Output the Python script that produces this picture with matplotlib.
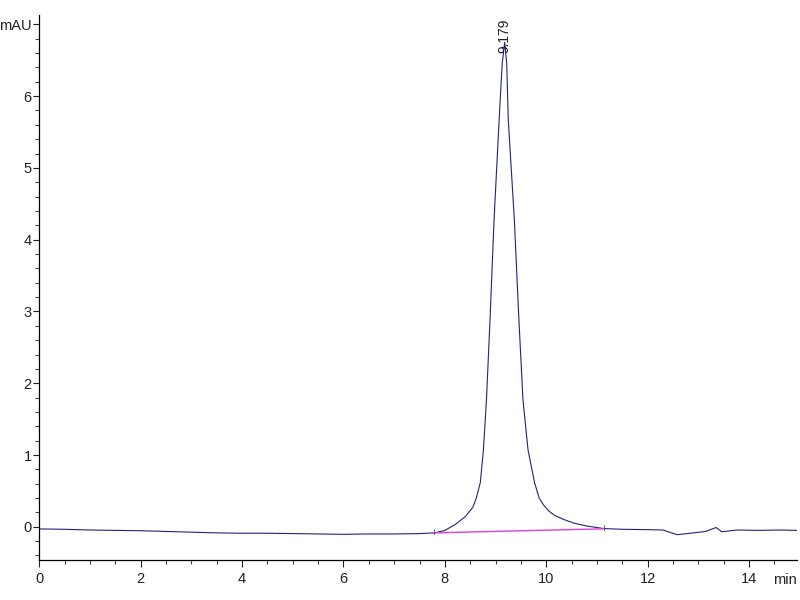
import matplotlib
matplotlib.use("Agg")
import matplotlib.pyplot as plt
from matplotlib.ticker import MultipleLocator, FixedLocator, FixedFormatter

plt.rcParams['font.family'] = ['Liberation Sans', 'DejaVu Sans']

# chromatogram (min, mAU)
time_min = [0.0, 0.5, 1.0, 1.5, 2.0, 2.5, 3.0, 3.5, 4.0, 4.5, 5.0, 5.5, 6.0, 6.5,
            7.0, 7.5, 7.8, 8.0, 8.2, 8.4, 8.55, 8.62, 8.70, 8.76, 8.82, 8.89,
            8.97, 9.07, 9.13, 9.18, 9.22, 9.25, 9.37, 9.46, 9.54, 9.64, 9.77,
            9.86, 9.95, 10.05, 10.16, 10.35, 10.55, 10.8, 11.14, 11.5, 12.0, 12.3,
            12.58, 12.84, 13.14, 13.35, 13.46, 13.76, 14.2, 14.6, 14.94]
signal_mau = [-0.03, -0.035, -0.045, -0.05, -0.055, -0.065, -0.075, -0.085, -0.09,
              -0.09, -0.095, -0.10, -0.105, -0.10, -0.10, -0.095, -0.085, -0.05,
              0.03, 0.14, 0.27, 0.40, 0.62, 1.07, 1.77, 2.88, 4.28, 5.67, 6.45,
              6.75, 6.45, 5.67, 4.28, 2.88, 1.77, 1.07, 0.61, 0.40, 0.30, 0.22,
              0.16, 0.10, 0.05, 0.01, -0.025, -0.035, -0.04, -0.045, -0.11, -0.09,
              -0.065, -0.01, -0.07, -0.045, -0.05, -0.045, -0.05]

# integration baseline
base_t = [7.78, 11.13]
base_y = [-0.085, -0.028]

peak_rt = 9.179
peak_h = 6.75

y_ticks = [0, 1, 2, 3, 4, 5, 6, 7]
y_labels = ['0', '1', '2', '3', '4', '5', '6', 'mAU']
x_ticks = [0, 2, 4, 6, 8, 10, 12, 14]

fig = plt.figure(figsize=(8, 6), dpi=100)
ax = fig.add_axes([0.049, 0.067, 0.947, 0.908])

ax.plot(time_min, signal_mau, color='#23237a', lw=0.8)
ax.plot(base_t, base_y, color='#e03ce0', lw=1.0)
for bt, by in zip(base_t, base_y):
    ax.plot([bt, bt], [by - 0.02, by + 0.05], color='#555555', lw=0.6)

ax.text(peak_rt, peak_h - 0.15, '9.179', rotation=90, ha='center', va='bottom',
        fontsize=10, color='#222222')

ax.set_xlim(0, 14.94)
ax.set_ylim(-0.46, 7.13)
ax.yaxis.set_major_locator(FixedLocator(y_ticks))
ax.yaxis.set_major_formatter(FixedFormatter(y_labels))
ax.yaxis.set_minor_locator(MultipleLocator(0.2))
ax.xaxis.set_major_locator(FixedLocator(x_ticks))
ax.xaxis.set_minor_locator(MultipleLocator(0.5))

ax.tick_params(which='major', length=5, width=0.8, labelsize=10.5, colors='#222222')
ax.tick_params(axis='y', which='major', length=4, pad=1.5)
ax.tick_params(axis='x', which='major', pad=4)
ax.tick_params(which='minor', length=3, width=0.8, colors='#444444')
for s in ['top', 'right']:
    ax.spines[s].set_visible(False)
for s in ['left', 'bottom']:
    ax.spines[s].set_linewidth(0.9)

fig.text(0.996, 0.033, 'min', ha='right', va='center', fontsize=10.5, color='#222222')

fig.savefig('out.png', dpi=100)
